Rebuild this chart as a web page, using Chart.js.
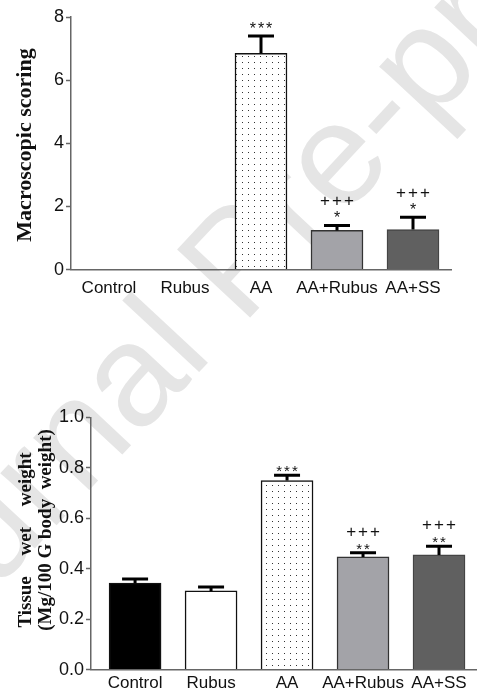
<!DOCTYPE html>
<html>
<head>
<meta charset="utf-8">
<script src="https://cdn.jsdelivr.net/npm/chart.js@4"></script>
<style>
  html, body { margin: 0; padding: 0; background: #fff; }
  body { width: 477px; height: 698px; position: relative; overflow: hidden; }
  .box { position: absolute; left: 0; z-index: 1; }
  .ytitle {
    position: absolute; z-index: 2; white-space: nowrap;
    font-family: "Liberation Serif", "Times New Roman", serif; font-weight: bold;
    color: #111; transform: translate(-50%, -50%) rotate(-90deg);
  }
  #wm {
    position: absolute; z-index: 0; left: 236px; top: 260px; white-space: nowrap;
    font-family: "Liberation Sans", Arial, sans-serif; font-size: 145px; color: #e5e5e5;
    transform: translate(-50%, -50%) rotate(-47deg);
  }
</style>
</head>
<body>
<div id="wm">Journal Pre-proof</div>

<div class="box" style="top:0px"><canvas id="scoreChart" width="477" height="308"></canvas></div>
<div class="box" style="top:399px"><canvas id="weightChart" width="477" height="299"></canvas></div>

<div class="ytitle" style="left:24px; top:145px; font-size:22px;">Macroscopic scoring</div>
<div class="ytitle" style="left:25px; top:540px; font-size:19px; word-spacing:16px;">Tissue wet weight</div>
<div class="ytitle" style="left:45px; top:530px; font-size:19px;">(Mg/100 G body&nbsp;&nbsp;weight)</div>

<script>
// groups
const groups = ['Control', 'Rubus', 'AA', 'AA+Rubus', 'AA+SS'];

// macroscopic scoring (mean, SEM)
const scoreMean = [0, 0, 6.85, 1.24, 1.27];
const scoreErr  = [0, 0, 0.55, 0.16, 0.39];
const scoreStars = ['', '', '***', '*', '*'];
const scorePlus  = ['', '', '', '+++', '+++'];
const scoreTicks = [0, 2, 4, 6, 8];

// tissue wet weight (mean, SEM)
const weightMean = [0.343, 0.312, 0.750, 0.447, 0.455];
const weightErr  = [0.016, 0.016, 0.021, 0.017, 0.034];
const weightStars = ['', '', '***', '**', '**'];
const weightPlus  = ['', '', '', '+++', '+++'];
const weightTicks = [0.0, 0.2, 0.4, 0.6, 0.8, 1.0];

// dotted fill for the AA bar
function dots() {
  const c = document.createElement('canvas');
  c.width = 6; c.height = 6;
  const g = c.getContext('2d');
  g.fillStyle = '#fff';
  g.fillRect(0, 0, 6, 6);
  g.fillStyle = '#333';
  g.fillRect(2, 2, 1, 1);
  return g.createPattern(c, 'repeat');
}

const fills = ['#000000', '#ffffff', dots(), '#a3a3a8', '#606060'];
const borders = ['#111', '#111', '#111', '#333', '#444'];

const sans = '"Liberation Sans", Arial, sans-serif';

// error bars (upward only) + significance marks
const marks = {
  id: 'marks',
  afterDatasetsDraw(chart, args, opts) {
    const ctx = chart.ctx;
    const y = chart.scales.y;
    const meta = chart.getDatasetMeta(0);
    meta.data.forEach((bar, i) => {
      const m = opts.mean[i], e = opts.err[i];
      const top = y.getPixelForValue(m + e);
      if (e > 0) {
        ctx.save();
        ctx.strokeStyle = '#000';
        ctx.lineWidth = 3;
        ctx.beginPath();
        ctx.moveTo(bar.x, bar.y);
        ctx.lineTo(bar.x, top);
        ctx.moveTo(bar.x - 13, top);
        ctx.lineTo(bar.x + 13, top);
        ctx.stroke();
        ctx.restore();
      }
      ctx.save();
      ctx.fillStyle = '#111';
      ctx.textAlign = 'center';
      ctx.textBaseline = 'alphabetic';
      const base = top + opts.starShift;
      if (opts.stars[i]) {
        ctx.font = opts.starSize + 'px ' + sans;
        ctx.letterSpacing = '2px';
        ctx.fillText(opts.stars[i], bar.x + 1, base);
      }
      if (opts.plus[i]) {
        ctx.font = '17px ' + sans;
        ctx.letterSpacing = '2px';
        ctx.fillText(opts.plus[i], bar.x + 1, base - 17);
      }
      ctx.restore();
    });
  }
};

function makeChart(id, mean, err, stars, plus, ticks, cfg) {
  return new Chart(document.getElementById(id), {
    type: 'bar',
    data: {
      datasets: [{
        data: mean.map((v, i) => ({ x: i, y: v })),
        backgroundColor: fills,
        borderColor: borders,
        borderWidth: 1.5,
        barThickness: 52
      }]
    },
    options: {
      responsive: false,
      animation: false,
      layout: { padding: { top: cfg.top, right: cfg.right, bottom: 0, left: 0 } },
      plugins: {
        legend: { display: false },
        tooltip: { enabled: false },
        marks: { mean: mean, err: err, stars: stars, plus: plus, starShift: cfg.starShift, starSize: cfg.starSize }
      },
      scales: {
        x: {
          type: 'linear',
          offset: false,
          min: cfg.xmin, max: 4.5,
          afterBuildTicks: s => { s.ticks = groups.map((g, i) => ({ value: i })); },
          ticks: {
            callback: v => groups[v],
            color: '#111', padding: cfg.xpad,
            font: { family: sans, size: 17 },
            maxRotation: 0, autoSkip: false
          },
          grid: { display: false, drawTicks: false, tickLength: 0 },
          border: { display: true, color: '#666', width: 1.5 }
        },
        y: {
          min: ticks[0], max: ticks[ticks.length - 1],
          afterBuildTicks: s => { s.ticks = ticks.map(v => ({ value: v })); },
          afterFit: s => { s.width = cfg.axisX; },
          ticks: {
            callback: v => cfg.fmt(v),
            color: '#111', padding: 2,
            font: { family: sans, size: 18 }
          },
          grid: { drawOnChartArea: false, drawTicks: true, tickLength: 5, color: '#666', tickWidth: 1.5 },
          border: { display: true, color: '#666', width: 1.5 }
        }
      }
    },
    plugins: [marks]
  });
}

makeChart('scoreChart', scoreMean, scoreErr, scoreStars, scorePlus, scoreTicks,
  { top: 17, xmin: -0.5, right: 26, axisX: 71, xpad: 9, starShift: -2, starSize: 16, fmt: v => String(v) });

makeChart('weightChart', weightMean, weightErr, weightStars, weightPlus, weightTicks,
  { top: 18.5, xmin: -0.58, right: 0, axisX: 91, xpad: 4, starShift: 1, starSize: 15, fmt: v => v.toFixed(1) });
</script>
</body>
</html>
